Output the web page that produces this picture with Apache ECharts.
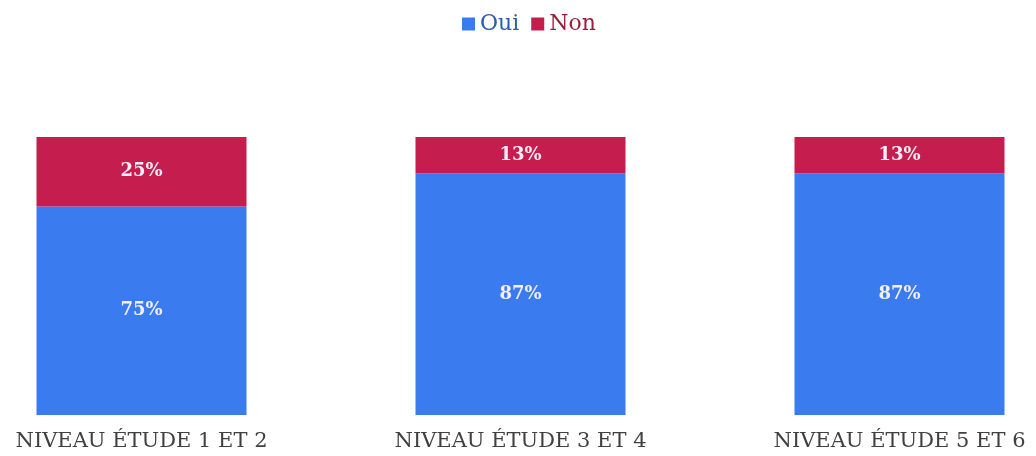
<!DOCTYPE html>
<html>
<head>
<meta charset="utf-8">
<script src="https://cdn.jsdelivr.net/npm/echarts@6/dist/echarts.min.js"></script>
<style>
  html, body { margin: 0; padding: 0; background: #ffffff; }
  #chart { width: 1036px; height: 456px; }
</style>
</head>
<body>
<div id="chart"></div>
<script>
// Niveaux d'étude et répartition Oui / Non (en %)
const categories = ['NIVEAU ÉTUDE 1 ET 2', 'NIVEAU ÉTUDE 3 ET 4', 'NIVEAU ÉTUDE 5 ET 6'];
const ouiValues = [75, 87, 87];
const nonValues = [25, 13, 13];

const chart = echarts.init(document.getElementById('chart'));

const labelStyle = {
  show: true,
  position: 'inside',
  color: '#f3eef8',
  fontFamily: 'DejaVu Serif',
  fontWeight: 'bold',
  fontSize: 18,
  formatter: p => p.value + '%'
};

chart.setOption({
  animation: false,
  legend: {
    top: 8,
    left: 457,
    itemWidth: 13,
    itemHeight: 13,
    itemGap: 12,
    icon: 'rect',
    textStyle: { fontFamily: 'DejaVu Serif', fontSize: 22 },
    data: [
      { name: 'Oui', textStyle: { color: '#2c5fae' } },
      { name: 'Non', textStyle: { color: '#9c1c3c' } }
    ]
  },
  grid: { left: -48, right: -53, top: 137, bottom: 41, outerBoundsMode: 'none', containLabel: false },
  xAxis: {
    type: 'category',
    data: categories,
    axisLine: { show: false },
    axisTick: { show: false },
    axisLabel: {
      margin: 16,
      color: '#404040',
      fontFamily: 'DejaVu Serif',
      fontSize: 21
    }
  },
  yAxis: {
    type: 'value',
    min: 0,
    max: 100,
    show: false
  },
  series: [
    {
      name: 'Oui',
      type: 'bar',
      stack: 'total',
      barWidth: 210,
      data: ouiValues,
      itemStyle: { color: '#3a7cf0' },
      label: labelStyle
    },
    {
      name: 'Non',
      type: 'bar',
      stack: 'total',
      barWidth: 210,
      data: nonValues,
      itemStyle: { color: '#c41d4e' },
      label: labelStyle
    }
  ]
});
</script>
</body>
</html>
